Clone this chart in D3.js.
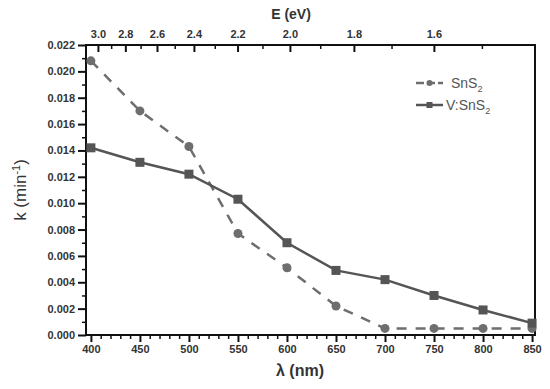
<!DOCTYPE html>
<html>
<head>
<meta charset="utf-8">
<script src="https://cdn.jsdelivr.net/npm/d3@7"></script>
<style>
  body { margin: 0; background: #fff; }
  text { font-family: "Liberation Sans", Arial, sans-serif; }
</style>
</head>
<body>
<svg id="chart" width="550" height="389"></svg>
<script>
// data
let wavelength = [400, 450, 500, 550, 600, 650, 700, 750, 800, 850];
let snS2 = [0.0208, 0.0170, 0.0143, 0.0077, 0.0051, 0.0022, 0.0005, 0.0005, 0.0005, 0.0005];
let vSnS2 = [0.0142, 0.0131, 0.0122, 0.0103, 0.0070, 0.0049, 0.0042, 0.0030, 0.0019, 0.0009];
let kTicks = [0, 0.002, 0.004, 0.006, 0.008, 0.010, 0.012, 0.014, 0.016, 0.018, 0.020, 0.022];
let lambdaTicks = [400, 450, 500, 550, 600, 650, 700, 750, 800, 850];
let energyTicks = [3.0, 2.8, 2.6, 2.4, 2.2, 2.0, 1.8, 1.6];
let energyMinor = [3.1, 2.9, 2.7, 2.5, 2.3, 2.1, 1.9, 1.7, 1.5];
// top axis in the figure follows roughly lambda = hc / E + shift
let hc = 1175;
let shift = 16;

let svg = d3.select("#chart");

let x = d3.scaleLinear().domain([395, 853]).range([86, 535]);
let y = d3.scaleLinear().domain([0, 0.022]).range([335, 45]);
let xE = e => x(hc / e + shift);

let axisColor = "#111";
let labelColor = "#333";

// frame
svg.append("rect")
    .attr("x", x.range()[0]).attr("y", y.range()[1])
    .attr("width", x.range()[1] - x.range()[0])
    .attr("height", y.range()[0] - y.range()[1])
    .style("fill", "none")
    .style("stroke", axisColor)
    .style("stroke-width", 2);

// bottom axis
let xMinor = d3.range(400, 851, 10).filter(d => d % 50 != 0);
svg.append("g")
    .attr("transform", `translate(0,${y(0)})`)
    .call(d3.axisBottom(x).tickValues(xMinor).tickSize(4).tickFormat(""))
    .call(g => g.select(".domain").remove())
    .selectAll("line").style("stroke", axisColor).style("stroke-width", 1.5);

svg.append("g")
    .attr("transform", `translate(0,${y(0)})`)
    .call(d3.axisBottom(x).tickValues(lambdaTicks).tickSize(7).tickPadding(3))
    .call(g => g.select(".domain").remove())
    .call(g => g.selectAll("line").style("stroke", axisColor).style("stroke-width", 2))
    .selectAll("text")
    .style("font-size", "11px")
    .style("font-weight", "bold")
    .style("fill", labelColor);

// left axis
let yMinor = d3.range(0.001, 0.022, 0.002);
svg.append("g")
    .attr("transform", `translate(${x.range()[0]},0)`)
    .call(d3.axisLeft(y).tickValues(yMinor).tickSize(4).tickFormat(""))
    .call(g => g.select(".domain").remove())
    .selectAll("line").style("stroke", axisColor).style("stroke-width", 1.5);

svg.append("g")
    .attr("transform", `translate(${x.range()[0]},0)`)
    .call(d3.axisLeft(y).tickValues(kTicks).tickSize(8).tickPadding(3).tickFormat(d3.format(".3f")))
    .call(g => g.select(".domain").remove())
    .call(g => g.selectAll("line").style("stroke", axisColor).style("stroke-width", 2))
    .selectAll("text")
    .style("font-size", "11px")
    .style("font-weight", "bold")
    .style("fill", labelColor);

// top energy axis, ticks point inward
let topAxis = svg.append("g").attr("class", "top axis");
topAxis.selectAll(".eminor")
    .data(energyMinor.filter(e => hc / e + shift >= 395))
    .join("line")
    .attr("class", "eminor")
    .attr("x1", d => xE(d)).attr("x2", d => xE(d))
    .attr("y1", y.range()[1]).attr("y2", y.range()[1] + 4)
    .style("stroke", axisColor).style("stroke-width", 1.5);
topAxis.selectAll(".emajor")
    .data(energyTicks)
    .join("line")
    .attr("class", "emajor")
    .attr("x1", d => xE(d)).attr("x2", d => xE(d))
    .attr("y1", y.range()[1]).attr("y2", y.range()[1] + 7)
    .style("stroke", axisColor).style("stroke-width", 2);
topAxis.selectAll(".elabel")
    .data(energyTicks)
    .join("text")
    .attr("class", "elabel")
    .attr("x", d => xE(d))
    .attr("y", y.range()[1] - 7)
    .attr("text-anchor", "middle")
    .text(d => d.toFixed(1))
    .style("font-size", "11px")
    .style("font-weight", "bold")
    .style("fill", labelColor);

// axis titles
svg.append("text")
    .attr("x", 291).attr("y", 19)
    .attr("text-anchor", "middle")
    .text("E (eV)")
    .style("font-size", "14px").style("font-weight", "bold").style("fill", labelColor);

svg.append("text")
    .attr("x", 300).attr("y", 376)
    .attr("text-anchor", "middle")
    .text("λ (nm)")
    .style("font-size", "16px").style("font-weight", "bold").style("fill", labelColor);

let yTitle = svg.append("text")
    .attr("transform", "translate(26,190) rotate(-90)")
    .attr("text-anchor", "middle")
    .style("font-size", "17px").style("fill", labelColor);
yTitle.append("tspan").text("k (min");
yTitle.append("tspan").attr("dy", -6).style("font-size", "11px").text("-1");
yTitle.append("tspan").attr("dy", 6).text(")");

// series
let seriesA = wavelength.map((w, i) => ({ w: w, k: snS2[i] }));
let seriesB = wavelength.map((w, i) => ({ w: w, k: vSnS2[i] }));

let line = d3.line()
    .x(d => x(d.w))
    .y(d => y(d.k));

svg.append("path")
    .attr("d", line(seriesA))
    .style("fill", "none")
    .style("stroke", "#6e6e6e")
    .style("stroke-width", 2.5)
    .style("stroke-dasharray", "10,9");

svg.append("path")
    .attr("d", line(seriesB))
    .style("fill", "none")
    .style("stroke", "#555")
    .style("stroke-width", 2.5);

svg.selectAll(".dotA")
    .data(seriesA)
    .join("circle")
    .attr("class", "dotA")
    .attr("cx", d => x(d.w))
    .attr("cy", d => y(d.k))
    .attr("r", 4.5)
    .style("fill", "#6e6e6e");

svg.selectAll(".sqB")
    .data(seriesB)
    .join("rect")
    .attr("class", "sqB")
    .attr("x", d => x(d.w) - 4.5)
    .attr("y", d => y(d.k) - 4.5)
    .attr("width", 9).attr("height", 9)
    .style("fill", "#555");

// legend
let legend = svg.append("g").attr("transform", "translate(416,83)");
legend.append("line").attr("x1", 0).attr("x2", 27).attr("y1", 0).attr("y2", 0)
    .style("stroke", "#6e6e6e").style("stroke-width", 2.5).style("stroke-dasharray", "8,3");
legend.append("circle").attr("cx", 13.5).attr("cy", 0).attr("r", 3).style("fill", "#6e6e6e");
let la = legend.append("text").attr("x", 35).attr("y", 5).style("font-size", "14px").style("fill", "#555");
la.append("tspan").text("SnS");
la.append("tspan").attr("dy", 4).style("font-size", "9px").text("2");

legend.append("line").attr("x1", 0).attr("x2", 27).attr("y1", 22).attr("y2", 22)
    .style("stroke", "#555").style("stroke-width", 2.5);
legend.append("rect").attr("x", 10.5).attr("y", 19).attr("width", 6).attr("height", 6).style("fill", "#555");
let lb = legend.append("text").attr("x", 30).attr("y", 27).style("font-size", "14px").style("fill", "#555");
lb.append("tspan").text("V:SnS");
lb.append("tspan").attr("dy", 4).style("font-size", "9px").text("2");
</script>
</body>
</html>
